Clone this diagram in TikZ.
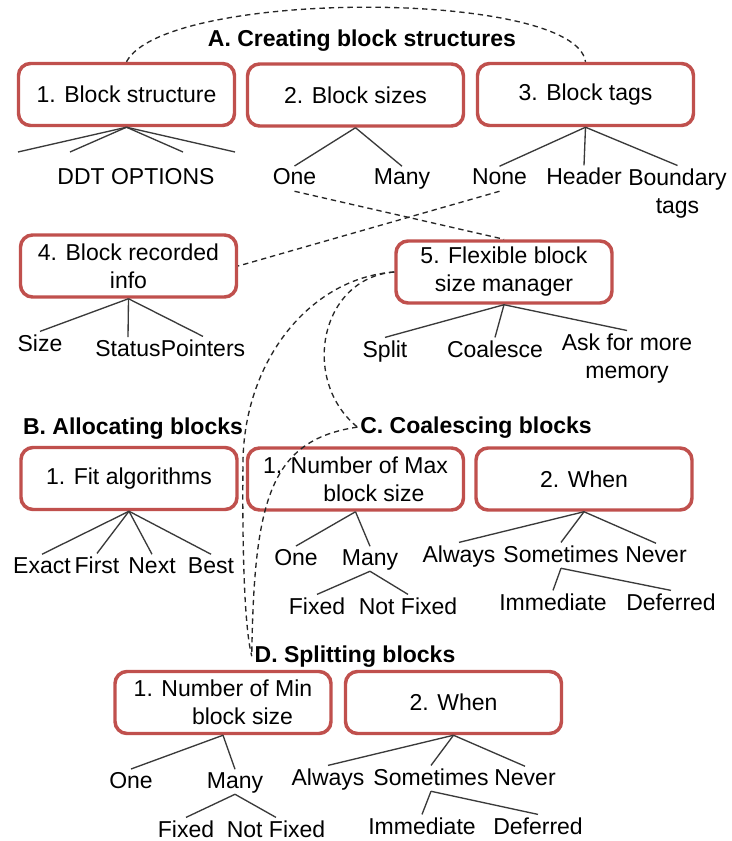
\documentclass[tikz,border=0pt]{standalone}
\usepackage{fontspec}
\setmainfont{Liberation Sans}
\usepackage{tikz}
\usepackage{xcolor}
\definecolor{boxred}{HTML}{C0504D}
\definecolor{treegray}{HTML}{3A3A3A}
\tikzset{
    rounded-box/.style = {draw=boxred, fill=white, line width=2.6pt, rectangle, rounded corners=9pt, minimum width=162pt, minimum height=46.5pt, inner sep=2pt, align=center, font=\fontsize{17.25}{21}\selectfont},
    section-title/.style = {anchor=base, inner sep=2pt, font=\fontsize{17.25}{21}\selectfont\bfseries},
    leaf/.style = {anchor=base, inner sep=2pt, text depth=0.25em, align=center, font=\fontsize{17.25}{21}\selectfont},
    branch/.style = {draw=treegray, line width=1pt},
    link/.style = {draw=black!85, line width=1pt, dash pattern=on 4pt off 3pt},
}

\begin{document}
\begin{tikzpicture}[x=0.75pt, y=-0.75pt]
\path[use as bounding box, fill=white] (0,0) rectangle (731,841);

% A. creating block structures
\node[section-title] (creating) at (362,47) {A. Creating block structures};
\node[rounded-box] (struct) at (126.5,94.5) {1. Block structure};
\node[rounded-box] (sizes) at (355.5,95) {2. Block sizes};
\node[rounded-box] (tags) at (585.5,94.5) {3. Block tags};

\coordinate (st1) at (18,152);
\coordinate (st2) at (70,152);
\coordinate (st3) at (183,152);
\coordinate (st4) at (235,152);
\node[leaf] (ddt) at (136,185) {DDT OPTIONS};
\foreach \c in {st1,st2,st3,st4} \draw[branch] (struct.south) -- (\c);

\node[leaf] (sz-one) at (294.5,185) {One};
\node[leaf] (sz-many) at (402,185) {Many};
\draw[branch] (sizes.south) -- (sz-one.north);
\draw[branch] (sizes.south) -- (sz-many.north);

\node[leaf] (tag-none) at (499.5,185) {None};
\node[leaf] (tag-header) at (584,185) {Header};
\node[leaf, anchor=north] (tag-boundary) at (677.5,165.5) {Boundary\\tags};
\foreach \c in {tag-none,tag-header,tag-boundary} \draw[branch] (tags.south) -- (\c.north);

\node[rounded-box] (recinfo) at (128.5,266) {4. Block recorded\\info};
\node[rounded-box] (flexmgr) at (504,272) {5. Flexible block\\size manager};

\node[leaf] (rec-size) at (40,351) {Size};
\node[leaf] (rec-status) at (128,356) {Status};
\node[leaf] (rec-pointers) at (203,356) {Pointers};
\foreach \c in {rec-size,rec-status,rec-pointers} \draw[branch] (recinfo.south) -- (\c.north);

\node[leaf] (fm-split) at (385,357) {Split};
\node[leaf] (fm-coalesce) at (495,357) {Coalesce};
\node[leaf, anchor=north] (fm-ask) at (627,330.5) {Ask for more\\memory};
\foreach \c in {fm-split,fm-coalesce,fm-ask} \draw[branch] (flexmgr.south) -- (\c.north);

% B. allocating blocks
\node[section-title] (allocating) at (133,434) {B. Allocating blocks};
\node[rounded-box] (fitalg) at (129,478.5) {1. Fit algorithms};
\node[leaf] (fit-exact) at (42,573) {Exact};
\node[leaf] (fit-first) at (97,573) {First};
\node[leaf] (fit-next) at (152,573) {Next};
\node[leaf] (fit-best) at (211,573) {Best};
\foreach \c in {fit-exact,fit-first,fit-next,fit-best} \draw[branch] (fitalg.south) -- (\c.north);

% C. coalescing blocks
\node[section-title] (coalescing) at (476,433) {C. Coalescing blocks};
\node[rounded-box] (maxsize) at (355.5,479) {1. Number of Max\\\hspace*{1.6em}block size};
\node[rounded-box] (cwhen) at (584,479) {2. When};

\node[leaf] (cmax-one) at (296,565) {One};
\node[leaf] (cmax-many) at (370,565) {Many};
\node[leaf] (cmax-fixed) at (317,614) {Fixed};
\node[leaf] (cmax-notfixed) at (408,614) {Not Fixed};
\draw[branch] (maxsize.south) -- (cmax-one.north);
\draw[branch] (maxsize.south) -- (cmax-many.north);
\draw[branch] (cmax-many.south) -- (cmax-fixed.north);
\draw[branch] (cmax-many.south) -- (cmax-notfixed.north);

\node[leaf] (cw-always) at (459,562) {Always};
\node[leaf] (cw-sometimes) at (561,562) {Sometimes};
\node[leaf] (cw-never) at (656,562) {Never};
\node[leaf] (cw-immediate) at (553,610) {Immediate};
\node[leaf] (cw-deferred) at (671,610) {Deferred};
\foreach \c in {cw-always,cw-sometimes,cw-never} \draw[branch] (cwhen.south) -- (\c.north);
\draw[branch] (cw-sometimes.south) -- (cw-immediate.north);
\draw[branch] (cw-sometimes.south) -- (cw-deferred.north);

% D. splitting blocks
\node[section-title] (splitting) at (355,662) {D. Splitting blocks};
\node[rounded-box] (minsize) at (223,702.5) {1. Number of Min\\\hspace*{1.7em}block size};
\node[rounded-box] (swhen) at (453.5,702.5) {2. When};

\node[leaf] (smin-one) at (131,788) {One};
\node[leaf] (smin-many) at (235,788) {Many};
\node[leaf] (smin-fixed) at (186,837) {Fixed};
\node[leaf] (smin-notfixed) at (276,837) {Not Fixed};
\draw[branch] (minsize.south) -- (smin-one.north);
\draw[branch] (minsize.south) -- (smin-many.north);
\draw[branch] (smin-many.south) -- (smin-fixed.north);
\draw[branch] (smin-many.south) -- (smin-notfixed.north);

\node[leaf] (sw-always) at (328,785) {Always};
\node[leaf] (sw-sometimes) at (431,785) {Sometimes};
\node[leaf] (sw-never) at (525,785) {Never};
\node[leaf] (sw-immediate) at (422,834) {Immediate};
\node[leaf] (sw-deferred) at (538,834) {Deferred};
\foreach \c in {sw-always,sw-sometimes,sw-never} \draw[branch] (swhen.south) -- (\c.north);
\draw[branch] (sw-sometimes.south) -- (sw-immediate.north);
\draw[branch] (sw-sometimes.south) -- (sw-deferred.north);

% dashed links
\draw[link] (struct.north) .. controls (165,-11) and (575,-11) .. (tags.north);
\draw[link] (sz-one.south) -- (flexmgr.north);
\draw[link] (tag-none.south) -- (recinfo.east);
\draw[link] (flexmgr.west) .. controls (310,278) and (245,360) .. (243,460) .. controls (242,560) and (245,630) .. (splitting.west);
\draw[link] (flexmgr.west) .. controls (320,278) and (300,380) .. (coalescing.west);
\draw[link] (coalescing.west) .. controls (270,440) and (254,500) .. (splitting.west);
\end{tikzpicture}
\end{document}
